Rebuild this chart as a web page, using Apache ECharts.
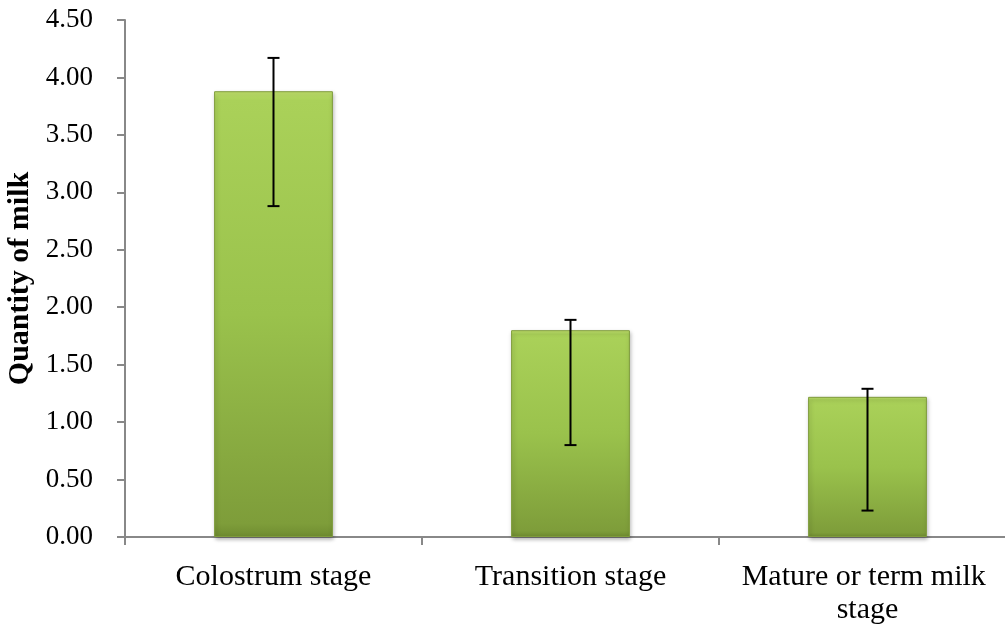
<!DOCTYPE html>
<html>
<head>
<meta charset="utf-8">
<script src="https://cdn.jsdelivr.net/npm/echarts@6/dist/echarts.min.js"></script>
<style>
  html, body { margin: 0; padding: 0; background: #fff; }
  #chart { width: 1005px; height: 627px; }
</style>
</head>
<body>
<div id="chart"></div>
<script>
const categories = ['Colostrum stage', 'Transition stage', 'Mature or term milk stage'];
const means = [3.88, 1.80, 1.22];
const errLow = [2.88, 0.80, 0.23];
const errHigh = [4.17, 1.89, 1.29];
const yTicks = { min: 0, max: 4.5, interval: 0.5 };

const chart = echarts.init(document.getElementById('chart'));

const serif = '"Liberation Serif", "Times New Roman", serif';

const option = {
  animation: false,
  grid: { left: 125, right: -11, top: 20, bottom: 90, outerBoundsMode: 'none', containLabel: false },
  xAxis: {
    type: 'category',
    data: categories,
    axisLine: { lineStyle: { color: '#888', width: 2 } },
    axisTick: { show: true, length: 8, lineStyle: { color: '#888', width: 2 } },
    axisLabel: {
      color: '#000',
      fontFamily: serif,
      fontSize: 30,
      margin: 24,
      width: 280,
      overflow: 'break',
      lineHeight: 33,
      interval: 0
    }
  },
  yAxis: {
    type: 'value',
    min: yTicks.min,
    max: yTicks.max,
    interval: yTicks.interval,
    name: 'Quantity of milk',
    nameLocation: 'middle',
    nameGap: 80,
    nameTextStyle: {
      color: '#000',
      fontFamily: serif,
      fontWeight: 'bold',
      fontSize: 30
    },
    splitLine: { show: false },
    axisLine: { show: true, lineStyle: { color: '#888', width: 2 } },
    axisTick: { show: true, length: 8, lineStyle: { color: '#888', width: 2 } },
    axisLabel: {
      color: '#000',
      fontFamily: serif,
      fontSize: 27,
      margin: 32,
      formatter: (v) => v.toFixed(2)
    }
  },
  series: [
    {
      type: 'bar',
      data: means,
      barWidth: '40%',
      itemStyle: {
        color: new echarts.graphic.LinearGradient(0, 0, 0, 1, [
          { offset: 0, color: '#c4e46e' },
          { offset: 0.02, color: '#aad159' },
          { offset: 0.5, color: '#9ac24c' },
          { offset: 0.97, color: '#7e9d3a' },
          { offset: 1, color: '#6f8c30' }
        ]),
        borderColor: '#7f9c3c',
        borderWidth: 1,
        shadowColor: 'rgba(0,0,0,0.3)',
        shadowBlur: 4,
        shadowOffsetX: 1,
        shadowOffsetY: 2
      },
      z: 2
    },
    {
      type: 'custom',
      z: 5,
      data: categories.map((c, i) => [i, errLow[i], errHigh[i]]),
      renderItem: (params, api) => {
        const idx = api.value(0);
        const lo = api.coord([idx, api.value(1)]);
        const hi = api.coord([idx, api.value(2)]);
        const half = 6;
        const style = { stroke: '#000', lineWidth: 2 };
        return {
          type: 'group',
          children: [
            { type: 'line', shape: { x1: hi[0], y1: hi[1], x2: lo[0], y2: lo[1] }, style },
            { type: 'line', shape: { x1: hi[0] - half, y1: hi[1], x2: hi[0] + half, y2: hi[1] }, style },
            { type: 'line', shape: { x1: lo[0] - half, y1: lo[1], x2: lo[0] + half, y2: lo[1] }, style }
          ]
        };
      }
    }
  ]
};

chart.setOption(option);
</script>
</body>
</html>
